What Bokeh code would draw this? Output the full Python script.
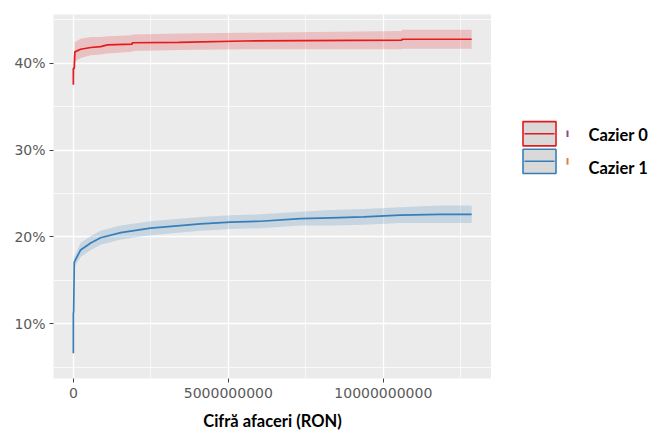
from bokeh.plotting import figure
from bokeh.layouts import row
from bokeh.models import Range1d, FixedTicker, PrintfTickFormatter, ColumnDataSource
from bokeh.core.properties import value
from bokeh.embed import file_html
from bokeh.resources import INLINE

# ---- data (x in RON, y in %) ----
red_x = [0, 0, 0.03e9, 0.05e9, 0.235e9, 0.56e9, 0.88e9, 1.1e9, 1.9e9, 1.9e9, 3.4e9,
         5.5e9, 10.6e9, 10.6e9, 12.85e9]
red_y = [37.5, 39.4, 39.4, 41.3, 41.6, 41.8, 41.9, 42.1, 42.2, 42.35, 42.4,
         42.55, 42.65, 42.75, 42.75]
red_lo = [35.5, 37.6, 38.6, 40.2, 40.6, 40.9, 41.0, 41.1, 41.3, 41.4, 41.5,
          41.6, 41.6, 41.65, 41.65]
red_hi = [39.5, 41.2, 40.2, 42.4, 42.8, 43.0, 43.0, 43.1, 43.2, 43.3, 43.4,
          43.5, 43.7, 43.85, 43.85]

blue_x = [0, 0, 0.01e9, 0.03e9, 0.235e9, 0.56e9, 0.88e9, 1.53e9, 2.49e9, 4.1e9,
          5.07e9, 6.04e9, 7.33e9, 8.3e9, 9.36e9, 10.55e9, 11.84e9, 12.85e9]
blue_y = [6.6, 11.3, 11.3, 17.1, 18.5, 19.3, 19.9, 20.5, 21.0, 21.5,
          21.7, 21.8, 22.1, 22.2, 22.3, 22.5, 22.6, 22.6]
blue_lo = [6.2, 10.9, 10.9, 16.5, 17.7, 18.5, 19.1, 19.7, 20.2, 20.7,
           20.9, 21.0, 21.3, 21.3, 21.4, 21.6, 21.6, 21.6]
blue_hi = [7.0, 11.7, 11.7, 17.7, 19.3, 20.1, 20.7, 21.3, 21.8, 22.3,
           22.5, 22.6, 22.9, 23.1, 23.2, 23.4, 23.6, 23.6]

x_ticks = [0, 5000000000, 10000000000]
x_tick_labels = ["0", "5000000000", "10000000000"]
x_minor = [2500000000, 7500000000, 12500000000]
y_ticks = [10, 20, 30, 40]
y_minor = [5, 15, 25, 35, 45]
series_names = ["Cazier 0", "Cazier 1"]
series_colors = ["#E41A1C", "#377EB8"]
x_title = "Cifră afaceri (RON)"

p = figure(width=491, height=435, output_backend="svg", toolbar_location=None,
           x_range=Range1d(-0.64e9, 13.49e9), y_range=Range1d(3.7, 45.6),
           min_border_left=53, min_border_right=0, min_border_top=14,
           min_border_bottom=57)
p.background_fill_color = "#EBEBEB"
p.border_fill_color = "white"
p.outline_line_color = None

# grids
p.xgrid.ticker = FixedTicker(ticks=x_ticks, minor_ticks=x_minor)
p.ygrid.ticker = FixedTicker(ticks=y_ticks, minor_ticks=y_minor)
for g in (p.xgrid, p.ygrid):
    g.grid_line_color = "white"
    g.grid_line_width = 1.3
    g.minor_grid_line_color = "white"
    g.minor_grid_line_width = 0.7

# axes
p.xaxis.ticker = FixedTicker(ticks=x_ticks)
p.xaxis.major_label_overrides = {t: l for t, l in zip(x_ticks, x_tick_labels)}
p.yaxis.ticker = FixedTicker(ticks=y_ticks)
p.yaxis.formatter = PrintfTickFormatter(format="%d%%")
for ax in (p.xaxis, p.yaxis):
    ax.axis_line_color = None
    ax.major_tick_line_color = "#444444"
    ax.major_tick_out = 4
    ax.major_tick_in = 0
    ax.minor_tick_line_color = None
    ax.major_label_text_font = "DejaVu Sans"
    ax.major_label_text_font_size = "14px"
    ax.major_label_text_color = "#5A5A5A"
p.xaxis.major_label_standoff = 5
p.yaxis.major_label_standoff = 4
p.xaxis.axis_label = x_title
p.xaxis.axis_label_text_font = "Lato"
p.xaxis.axis_label_text_font_style = "bold"
p.xaxis.axis_label_text_font_size = "16.5px"
p.xaxis.axis_label_text_color = "black"
p.xaxis.axis_label_standoff = 10

# bands and lines
src_r = ColumnDataSource(dict(x=red_x, y=red_y, lo=red_lo, hi=red_hi))
src_b = ColumnDataSource(dict(x=blue_x, y=blue_y, lo=blue_lo, hi=blue_hi))
p.varea(x="x", y1="lo", y2="hi", source=src_r, fill_color=series_colors[0], fill_alpha=0.2)
p.varea(x="x", y1="lo", y2="hi", source=src_b, fill_color=series_colors[1], fill_alpha=0.2)
p.line(x="x", y="y", source=src_r, line_color=series_colors[0], line_width=1.7)
p.line(x="x", y="y", source=src_b, line_color=series_colors[1], line_width=1.7)

# ---- legend panel (pixel-like coordinates, y downwards) ----
lg = figure(width=160, height=435, output_backend="svg", toolbar_location=None,
            x_range=Range1d(0, 160), y_range=Range1d(435, 0),
            min_border=0, x_axis_type=None, y_axis_type=None)
lg.outline_line_color = None
lg.grid.visible = False
lg.background_fill_color = "white"
lg.border_fill_color = "white"

key_cy = [142.5, 175.5]
label_cy = [144, 184]
mark_colors = ["#8A4F7A", "#E0823A"]
for i, (name, col) in enumerate(zip(series_names, series_colors)):
    lg.rect(x=[48], y=[key_cy[i]], width=33, height=29, fill_color="#D9D9D9",
            line_color=col, line_width=1.6)
    lg.segment(x0=[33], y0=[key_cy[i]], x1=[63], y1=[key_cy[i]],
               line_color=col, line_width=1.5)
    lg.segment(x0=[76], y0=[key_cy[i] - 4], x1=[76], y1=[key_cy[i] + 4],
               line_color=mark_colors[i], line_width=2)
    lg.text(x=[97], y=[label_cy[i]], text=[name], text_font=value("Lato"),
            text_font_style="bold", text_font_size="16.5px", text_color="black",
            text_baseline="middle", text_align="left")

layout = row(p, lg, spacing=0)
open("out.html", "w").write(file_html(layout, INLINE))
